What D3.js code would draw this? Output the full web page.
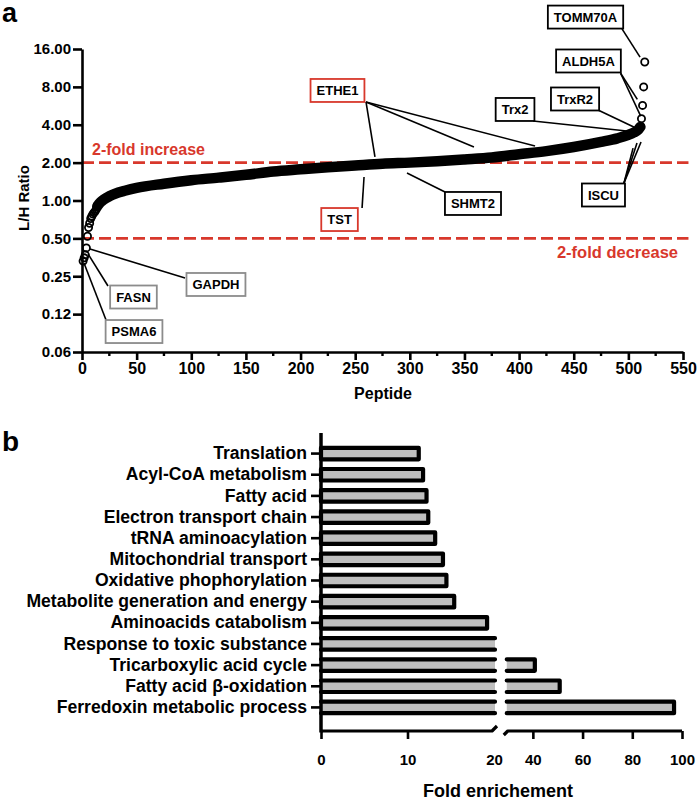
<!DOCTYPE html>
<html>
<head>
<meta charset="utf-8">
<script src="https://cdn.jsdelivr.net/npm/d3@7"></script>
<style>
body{margin:0;background:#fff}
svg{display:block;font-family:"Liberation Sans",Arial,sans-serif;font-weight:bold}
</style>
</head>
<body>
<div id="chart"></div>
<script>
// ---- panel a : sorted L/H ratio per peptide
var lowRank  = [1,2,3,4,5,6,7,8,9,10,11,12,13]
var lowRatio = [0.33,0.35,0.37,0.42,0.52,0.61,0.66,0.72,0.75,0.78,0.80,0.82,0.85]
var bandRank  = [14,17,20,25,30,40,50,75,100,125,150,175,200,225,250,275,300,325,350,375,400,425,450,475,490,500,505,509,511]
var bandRatio = [0.90,0.97,1.02,1.08,1.13,1.20,1.26,1.36,1.45,1.52,1.60,1.70,1.77,1.84,1.90,1.96,2.00,2.05,2.12,2.20,2.33,2.47,2.66,2.92,3.12,3.32,3.47,3.65,3.85]
var highRank  = [512,513,514,515]
var highRatio = [4.47,5.7,8.0,12.6]

var yTicks = [0.0625,0.125,0.25,0.5,1,2,4,8,16]
var yTickLabels = ["0.06","0.12","0.25","0.50","1.00","2.00","4.00","8.00","16.00"]
var xTicks = [0,50,100,150,200,250,300,350,400,450,500,550]
var xMinorTicks = [25,75,125,175,225,275,325,375,425,475,525]
var foldLines = [2,0.5]

// protein labels: box centre and leader lines, in (peptide, ratio) units
var proteins = [
  {name:"TOMM70A", col:"black", at:[460.8,28.7], from:[494.2,23.1], to:[[510.7,13.8]]},
  {name:"ALDH5A",  col:"black", at:[463.5,12.85], from:[492.9,10.26], to:[[508.2,6.37],[511.3,4.69]]},
  {name:"TrxR2",   col:"black", at:[451.2,6.41], from:[472.2,5.24], to:[[508.8,3.70]]},
  {name:"Trx2",    col:"black", at:[396.3,5.29], from:[412.8,4.28], to:[[507.0,3.50]]},
  {name:"ETHE1",   col:"red",   at:[233.8,7.49], from:[259.9,6.07], to:[[268.1,2.22],[358.7,2.66],[414.6,2.71]]},
  {name:"TST",     col:"red",   at:[235.7,0.706], from:[256.3,0.872], to:[[258.1,1.537]]},
  {name:"SHMT2",   col:"black", at:[357.8,0.947], from:[332.2,1.168], to:[[297.4,1.654]]},
  {name:"ISCU",    col:"black", at:[477.2,1.106], from:[496.0,1.378], to:[[504.3,2.61],[507.9,2.86],[511.6,2.92]]},
  {name:"GAPDH",   col:"grey",  at:[122.6,0.215], from:[94.3,0.242], to:[[7.3,0.412]]},
  {name:"FASN",    col:"grey",  at:[47.1,0.171], from:[23.8,0.209], to:[[5.5,0.376]]},
  {name:"PSMA6",   col:"grey",  at:[47.6,0.0909], from:[22.0,0.1123], to:[[1.8,0.319]]}
]

// ---- panel b : fold enrichment
var terms = ["Translation","Acyl-CoA metabolism","Fatty acid","Electron transport chain","tRNA aminoacylation",
  "Mitochondrial transport","Oxidative phophorylation","Metabolite generation and energy","Aminoacids catabolism",
  "Response to toxic substance","Tricarboxylic acid cycle","Fatty acid \u03b2-oxidation","Ferredoxin metabolic process"]
var fold = [11.3,11.8,12.2,12.4,13.2,14.1,14.5,15.4,19.2,25,40.8,50.8,96.8]
var leftTicks = [0,10,20]
var rightTicks = [40,60,80,100]

var red = "#d8382c"
var boxColor = {black:"#000", red:red, grey:"#8c8c8c"}

var svg = d3.select("#chart").append("svg").attr("width",700).attr("height",802)

function styleAxis(g, fs){
  g.selectAll("path,line").attr("stroke","#000").attr("stroke-width",2.6)
  g.selectAll("text").attr("fill","#000").style("font-size",fs).style("font-weight","bold")
    .style("font-family","'Liberation Sans',Arial,sans-serif")
}

// ================= panel a
svg.append("text").attr("x",2).attr("y",22)
  .style("font-family","'Liberation Sans',Arial,sans-serif").style("font-size","27px").text("a")

var x = d3.scaleLinear().domain([0,550]).range([82,683])
var y = d3.scaleLog().base(2).domain([0.0625,16]).range([352,49])

// 2-fold lines
svg.selectAll(".fold").data(foldLines).enter().append("line")
  .attr("x1",x(0)).attr("x2",x(555))
  .attr("y1",d=>y(d)).attr("y2",d=>y(d))
  .attr("stroke",red).attr("stroke-width",2.8).attr("stroke-dasharray","12,5")
svg.append("text").attr("x",92).attr("y",y(2)-8).attr("fill",red).style("font-size","16px").text("2-fold increase")
svg.append("text").attr("x",678).attr("y",y(0.5)+20).attr("text-anchor","end").attr("fill",red)
  .style("font-size","16.5px").text("2-fold decrease")

// leader lines + boxes
proteins.forEach(function(p){
  var g = svg.append("g")
  p.to.forEach(function(t){
    g.append("line").attr("x1",x(p.from[0])).attr("y1",y(p.from[1]))
      .attr("x2",x(t[0])).attr("y2",y(t[1]))
      .attr("stroke","#000").attr("stroke-width",1.6)
  })
  var txt = g.append("text").attr("x",x(p.at[0])).attr("y",y(p.at[1])).attr("dy","0.36em")
    .attr("text-anchor","middle").style("font-size","13px").text(p.name)
  var w = txt.node().getComputedTextLength() + 12
  g.insert("rect","text").attr("x",x(p.at[0])-w/2).attr("y",y(p.at[1])-11.5)
    .attr("width",w).attr("height",23).attr("fill","#fff")
    .attr("stroke",boxColor[p.col]).attr("stroke-width",1.8)
})

// dense part of the curve
var line = d3.line().x(d=>x(d[0])).y(d=>y(d[1])).curve(d3.curveMonotoneX)
svg.append("path").datum(d3.zip(bandRank,bandRatio)).attr("d",line)
  .attr("fill","none").attr("stroke","#000").attr("stroke-width",10.5)
  .attr("stroke-linecap","round").attr("stroke-linejoin","round")

// separated points
svg.selectAll(".pt").data(d3.zip(lowRank.concat(highRank), lowRatio.concat(highRatio))).enter()
  .append("circle").attr("cx",d=>x(d[0])).attr("cy",d=>y(d[1])).attr("r",3.6)
  .attr("fill","none").attr("stroke","#000").attr("stroke-width",1.8)

// axes
var gy = svg.append("g").attr("transform","translate(82,0)")
  .call(d3.axisLeft(y).tickValues(yTicks).tickFormat((d,i)=>yTickLabels[i]).tickSize(9).tickPadding(2).tickSizeOuter(0))
styleAxis(gy,"15px")

var gx = svg.append("g").attr("transform","translate(0,352)")
  .call(d3.axisBottom(x).tickValues(xTicks).tickSize(8).tickPadding(3).tickSizeOuter(0))
styleAxis(gx,"16px")
gx.selectAll(".minor").data(xMinorTicks).enter().append("line")
  .attr("x1",d=>x(d)).attr("x2",d=>x(d)).attr("y1",0).attr("y2",4)
  .attr("stroke","#000").attr("stroke-width",2.4)

svg.append("text").attr("x",383).attr("y",399).attr("text-anchor","middle").style("font-size","16px").text("Peptide")
svg.append("text").attr("transform","translate(29,198) rotate(-90)").attr("text-anchor","middle")
  .style("font-size","15px").text("L/H Ratio")

// ================= panel b
svg.append("text").attr("x",2).attr("y",451)
  .style("font-family","'Liberation Sans',Arial,sans-serif").style("font-size","28px").text("b")

var xL = d3.scaleLinear().domain([0,20]).range([321,494])
var xR = d3.scaleLinear().domain([30,100]).range([508,682])
var yB = d3.scaleBand().domain(terms).range([443,718])
var baseB = 731, topB = 433
var barH = 11.5
var cutL = xL(20) + 1, cutR = xR(29.5)
var grey = "#bfbfbf"

terms.forEach(function(t,i){
  var v = fold[i]
  var cy = yB(t) + yB.bandwidth()/2
  var top = cy - barH/2, bot = cy + barH/2
  if (v <= 20) {
    svg.append("rect").attr("x",xL(0)).attr("y",top).attr("width",xL(v)-xL(0)).attr("height",barH)
      .attr("fill",grey).attr("stroke","#000").attr("stroke-width",4.2).attr("stroke-linejoin","round")
  } else {
    svg.append("rect").attr("x",xL(0)).attr("y",top).attr("width",cutL-xL(0)).attr("height",barH).attr("fill",grey)
    svg.append("path").attr("d","M"+xL(0)+","+top+"H"+cutL+"M"+xL(0)+","+bot+"H"+cutL)
      .attr("fill","none").attr("stroke","#000").attr("stroke-width",4.2).attr("stroke-linecap","round")
    if (v > 30) {
      svg.append("rect").attr("x",cutR).attr("y",top).attr("width",xR(v)-cutR).attr("height",barH).attr("fill",grey)
      svg.append("path").attr("d","M"+cutR+","+top+"H"+xR(v)+"V"+bot+"H"+cutR)
        .attr("fill","none").attr("stroke","#000").attr("stroke-width",4.2)
        .attr("stroke-linecap","round").attr("stroke-linejoin","round")
    }
  }
})

// category axis
var gb = svg.append("g").attr("transform","translate(321,0)")
  .call(d3.axisLeft(yB).tickSize(10).tickPadding(4).tickSizeOuter(0))
gb.select(".domain").remove()
styleAxis(gb,"17.6px")
svg.append("line").attr("x1",321).attr("x2",321).attr("y1",topB).attr("y2",baseB+1.5)
  .attr("stroke","#000").attr("stroke-width",3.5)

// broken value axis
svg.append("path").attr("d","M321,"+baseB+"H"+(cutL-3)+"l5,-5M"+(cutR-3)+","+(baseB+4)+"l4,-4H"+xR(100))
  .attr("fill","none").attr("stroke","#000").attr("stroke-width",3.2).attr("stroke-linejoin","round")
var gl = svg.append("g").attr("transform","translate(0,"+baseB+")")
  .call(d3.axisBottom(xL).tickValues(leftTicks).tickSize(8).tickPadding(15).tickSizeOuter(0))
gl.select(".domain").remove()
gl.selectAll(".tick line").filter(d=>d===20).remove()
styleAxis(gl,"15px")
var gr = svg.append("g").attr("transform","translate(0,"+baseB+")")
  .call(d3.axisBottom(xR).tickValues(rightTicks).tickSize(8).tickPadding(15).tickSizeOuter(0))
gr.select(".domain").remove()
styleAxis(gr,"15px")

svg.append("text").attr("x",498).attr("y",797).attr("text-anchor","middle").style("font-size","18px").text("Fold enrichement")
</script>
</body>
</html>
